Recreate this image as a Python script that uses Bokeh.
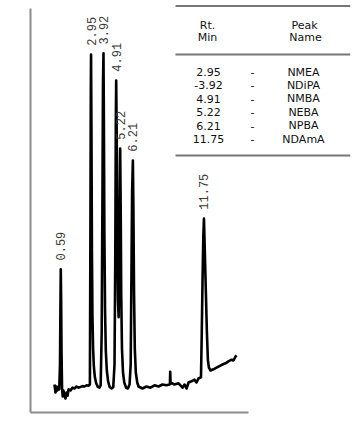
import math
from bokeh.plotting import figure
from bokeh.models import Range1d, ColumnDataSource, Label, LabelSet, BoxAnnotation, FixedTicker
from bokeh.core.properties import value
from bokeh.embed import file_html
from bokeh.resources import INLINE

# ---- chromatogram trace (time in minutes, detector response in arbitrary units) ----
trace_t = [
    0.10, 0.18, 0.26, 0.33, 0.40, 0.47, 0.53, 0.56,
    0.59, 0.62, 0.65, 0.69, 0.74, 0.80, 0.88, 0.96,
    1.04, 1.12, 1.20, 1.35, 1.50, 1.66, 1.82, 1.97,
    2.13, 2.28, 2.44, 2.60, 2.75, 2.86, 2.90, 2.93,
    2.95, 2.98, 3.02, 3.06, 3.11, 3.17, 3.25, 3.35,
    3.48, 3.60, 3.70, 3.78, 3.84, 3.88, 3.92, 3.95,
    3.99, 4.04, 4.10, 4.18, 4.28, 4.40, 4.55, 4.68,
    4.78, 4.84, 4.88, 4.91, 4.95, 5.00, 5.05, 5.10,
    5.15, 5.19, 5.22, 5.26, 5.30, 5.36, 5.44, 5.54,
    5.68, 5.82, 5.95, 6.04, 6.10, 6.15, 6.21, 6.25,
    6.30, 6.36, 6.44, 6.55, 6.65, 6.96, 7.27, 7.58,
    7.90, 8.21, 8.52, 8.83, 9.07, 9.10, 9.12, 9.15,
    9.22, 9.45, 9.77, 10.08, 10.24, 10.39, 10.55, 10.78,
    11.01, 11.17, 11.32, 11.52, 11.58, 11.64, 11.70, 11.75,
    11.82, 11.90, 11.98, 12.06, 12.14, 12.26, 12.49, 12.73,
    12.96, 13.20, 13.43, 13.66, 13.90, 14.05, 14.21, 14.29,
]
trace_r = [
    7.0, 5.0, 6.5, 5.5, 6.3, 5.8, 12.0, 25.0,
    35.8, 28.0, 15.0, 6.0, 4.0, 5.5, 4.2, 3.5,
    5.0, 4.2, 5.8, 5.5, 6.2, 6.0, 6.5, 6.2,
    6.4, 6.6, 6.5, 6.8, 6.7, 7.0, 45.0, 80.0,
    89.5, 72.0, 40.0, 24.0, 16.0, 11.5, 8.8, 7.3,
    6.4, 6.2, 6.8, 20.0, 55.0, 82.0, 89.8, 74.0,
    45.0, 26.0, 15.5, 10.5, 7.8, 6.4, 6.0, 6.3,
    12.0, 40.0, 72.0, 83.0, 70.0, 42.0, 28.0, 23.8,
    38.0, 56.0, 66.0, 52.0, 30.0, 16.0, 10.0, 7.5,
    6.2, 6.0, 7.0, 12.0, 35.0, 55.0, 63.0, 52.0,
    30.0, 16.0, 10.0, 7.5, 6.5, 6.0, 6.5, 6.2,
    6.8, 6.5, 7.0, 6.8, 7.0, 7.2, 10.2, 7.2,
    7.4, 7.0, 7.3, 6.2, 7.0, 6.0, 7.5, 7.8,
    8.2, 7.5, 8.5, 8.8, 20.0, 33.0, 44.0, 48.5,
    40.0, 30.0, 20.0, 13.0, 11.2, 10.5, 10.8, 11.2,
    11.6, 12.0, 12.3, 12.8, 13.2, 13.0, 14.0, 14.3,
]

# ---- peak annotations ----
peak_times = [0.59, 2.95, 3.92, 4.91, 5.22, 6.21, 11.75]
peak_heights = [35.8, 89.5, 89.8, 83.0, 66.0, 63.0, 48.5]
peak_labels = ["0.59", "2.95", "3.92", "4.91", "5.22", "6.21", "11.75"]

# ---- peak table ----
table_rt = ["2.95", "-3.92", "4.91", "5.22", "6.21", "11.75"]
table_names = ["NMEA", "NDiPA", "NMBA", "NEBA", "NPBA", "NDAmA"]

W, H = 356, 434
p = figure(width=W, height=H, output_backend="svg", toolbar_location=None,
           x_range=Range1d(-1.769, 23.172), y_range=Range1d(0, 102),
           min_border_left=30, min_border_right=6, min_border_top=4,
           min_border_bottom=22)
p.outline_line_color = None
p.grid.visible = False
p.background_fill_color = "white"
p.border_fill_color = "white"

for ax in (p.xaxis[0], p.yaxis[0]):
    ax.ticker = FixedTicker(ticks=[])
    ax.major_tick_line_color = None
    ax.minor_tick_line_color = None
    ax.major_label_text_font_size = "0px"
    ax.major_tick_out = 0
    ax.major_tick_in = 0
    ax.minor_tick_out = 0
    ax.minor_tick_in = 0
    ax.axis_line_color = "#8c8c8c"
    ax.axis_line_width = 2
p.xaxis[0].bounds = (-1.769, 15.24)
p.yaxis[0].bounds = (0, 101)

# trace
p.line(trace_t, trace_r, line_color="black", line_width=2.6, line_join="round")

# peak labels
lab_src = ColumnDataSource(dict(x=peak_times,
                                y=[h + 2.2 for h in peak_heights],
                                text=peak_labels))
p.text(x="x", y="y", text="text", source=lab_src, angle=math.pi / 2,
       text_align="left", text_baseline="middle",
       text_font=value("Liberation Mono"), text_font_size="12px",
       text_color="#3a3a3a")

# axis titles (screen units relative to the frame's bottom-left)
p.add_layout(Label(x=-10, y=155, x_units="screen", y_units="screen",
                   text="DETECTOR RESPONSE", angle=math.pi / 2,
                   text_align="center", text_baseline="middle",
                   text_font="Liberation Sans", text_font_size="11.5px",
                   text_color="#333333"))
p.add_layout(Label(x=108, y=-14, x_units="screen", y_units="screen",
                   text="TIME", text_align="center", text_baseline="middle",
                   text_font="Liberation Sans", text_font_size="11.5px",
                   text_color="#333333"))

# table rules
for yb in (405.5, 357, 256):
    p.add_layout(BoxAnnotation(left=145, right=320, bottom=yb, top=yb + 2,
                               left_units="screen", right_units="screen",
                               top_units="screen", bottom_units="screen",
                               fill_color="#777777", fill_alpha=1.0,
                               line_color=None))

# table headers
hdr_font = dict(text_font="DejaVu Sans", text_font_size="11px",
                text_color="#111111", text_align="center",
                text_baseline="middle", x_units="screen", y_units="screen")
p.add_layout(Label(x=177, y=387, text="Rt.", **hdr_font))
p.add_layout(Label(x=177, y=375, text="Min", **hdr_font))
p.add_layout(Label(x=274, y=387, text="Peak", **hdr_font))
p.add_layout(Label(x=275, y=375, text="Name", **hdr_font))

# table rows
row_y = [340.5 - 13.4 * i for i in range(len(table_rt))]
tbl_src = ColumnDataSource(dict(
    rt=table_rt, dash=["-"] * len(table_rt), name=table_names, y=row_y,
    x_rt=[178] * len(table_rt), x_dash=[222] * len(table_rt),
    x_name=[273] * len(table_rt)))
for xcol, tcol in (("x_rt", "rt"), ("x_dash", "dash"), ("x_name", "name")):
    p.add_layout(LabelSet(x=xcol, y="y", text=tcol, source=tbl_src,
                          x_units="screen", y_units="screen",
                          text_font=value("DejaVu Sans"), text_font_size="11px",
                          text_color="#111111", text_align="center",
                          text_baseline="middle"))

open("out.html", "w").write(file_html(p, INLINE))
